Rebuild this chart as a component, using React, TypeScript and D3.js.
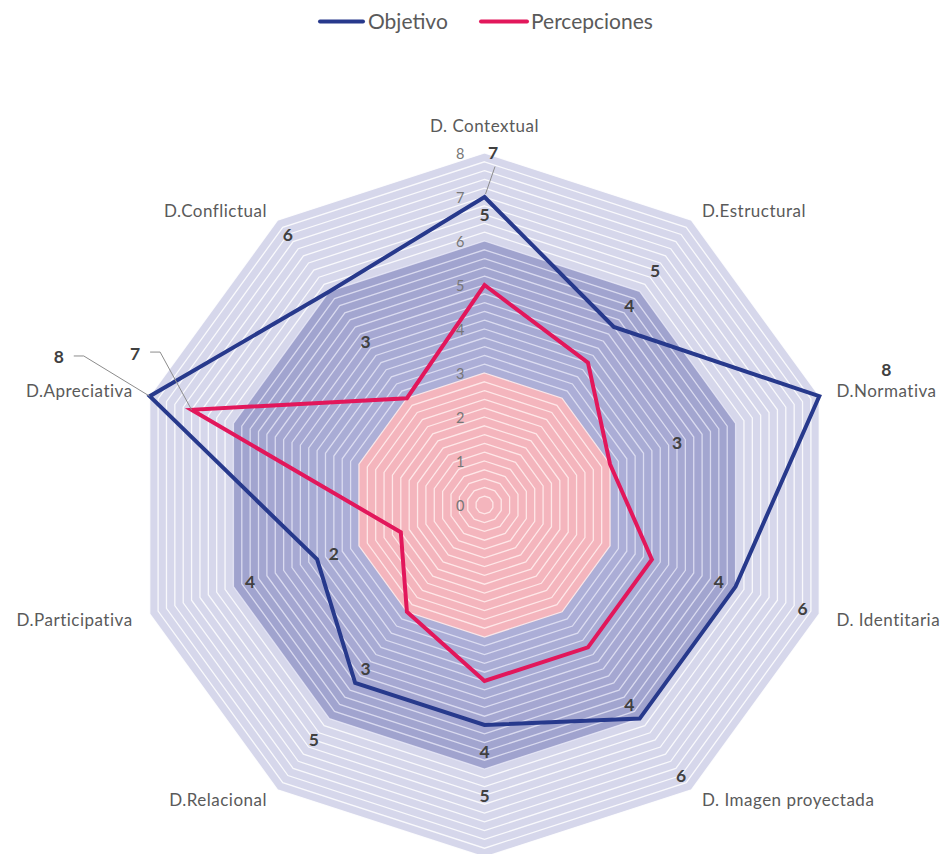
import React from "react";
import * as d3 from "d3";

const categories = [
  "D. Contextual",
  "D.Estructural",
  "D.Normativa",
  "D. Identitaria",
  "D. Imagen proyectada",
  "",
  "D.Relacional",
  "D.Participativa",
  "D.Apreciativa",
  "D.Conflictual",
];
const objetivo = [7, 5, 8, 6, 6, 5, 5, 4, 8, 6];
const percepciones = [5, 4, 3, 4, 4, 4, 3, 2, 7, 3];
const tickValues = [0, 1, 2, 3, 4, 5, 6, 7, 8];
const seriesNames = ["Objetivo", "Percepciones"];

const W = 946;
const H = 854;
const CX = 484.5;
const CY = 505;
const R = 352;
const MAXV = 8;
const BLUE = "#27398c";
const PINK = "#e2175b";
const FONT = "Lato, 'Open Sans', sans-serif";

// manually moved data labels (layout only): series, index, offset, leader type
const moved = [
  { s: 0, i: 0, dx: 8.5, dy: 26, leader: "below" },
  { s: 0, i: 2, dx: 0, dy: -5, leader: "" },
  { s: 0, i: 8, dx: -24, dy: -17.5, leader: "right" },
  { s: 1, i: 8, dx: 10.5, dy: -35, leader: "right" },
];

export default function App() {
  const r = d3.scaleLinear().domain([0, MAXV]).range([0, R]);
  const n = categories.length;
  const ang = d3
    .scaleLinear()
    .domain([0, n])
    .range([0, 2 * Math.PI]);
  const pt = (i: number, v: number) => {
    const a = ang(i);
    return [CX + r(v) * Math.sin(a), CY - r(v) * Math.cos(a)];
  };
  const radial = d3
    .lineRadial<number>()
    .angle((_, i) => ang(i))
    .radius((d) => r(d))
    .curve(d3.curveLinearClosed);

  const levels = d3.range(40, 0, -1).map((k) => k / 5);
  const fillFor = (v: number) => {
    if (v > 6.001) return "#d6d7eb";
    if (v > 3.001) {
      const t = (v - 3) / 3;
      return d3.interpolateRgb("#aeb0d8", "#a0a3ce")(t);
    }
    return "#f4b5bd";
  };
  const strokeFor = (v: number) => {
    if (v > 6.001) return "rgba(255,255,255,0.85)";
    if (v > 3.001) return "rgba(236,236,250,0.75)";
    return "rgba(255,236,236,0.9)";
  };

  const series = [objetivo, percepciones];
  const colors = [BLUE, PINK];

  const labels: any[] = [];
  series.forEach((vals, s) => {
    vals.forEach((v, i) => {
      let [x, y] = pt(i, v + 1.6);
      const m = moved.find((mm) => mm.s === s && mm.i === i);
      let leader: string | null = null;
      if (m) {
        x += m.dx;
        y += m.dy;
        const [vx, vy] = pt(i, v);
        if (m.leader === "below") {
          leader = `M${x + 2},${y + 14} L${vx + 1},${vy - 3}`;
        } else if (m.leader === "right") {
          leader = `M${x + 15},${y - 1} L${x + 25},${y - 1} L${vx},${vy}`;
        }
      }
      labels.push({ key: `${s}-${i}`, x, y, text: String(v), leader });
    });
  });

  return (
    <svg
      width={W}
      height={H}
      style={{ position: "absolute", left: 0, top: 0, background: "#fff" }}
      fontFamily={FONT}
    >
      {/* grid bands */}
      <g transform={`translate(${CX},${CY})`}>
        {levels.map((v) => (
          <path
            key={v}
            d={radial(new Array(n).fill(v)) || ""}
            fill={fillFor(v)}
            stroke={strokeFor(v)}
            strokeWidth={1.3}
          />
        ))}
      </g>

      {/* tick labels */}
      {tickValues.map((t) => (
        <text
          key={t}
          x={CX - 20}
          y={CY - r(t)}
          textAnchor="end"
          dominantBaseline="central"
          fontSize={14.5}
          fill="#777"
        >
          {t}
        </text>
      ))}

      {/* series */}
      <g transform={`translate(${CX},${CY})`}>
        {series.map((vals, s) => (
          <path
            key={s}
            d={radial(vals) || ""}
            fill="none"
            stroke={colors[s]}
            strokeWidth={4}
            strokeLinejoin="miter"
          />
        ))}
      </g>

      {/* category labels */}
      {categories.map((c, i) => {
        const a = ang(i);
        const sn = Math.sin(a);
        const cs = Math.cos(a);
        const pad = Math.abs(sn) < 0.1 ? 28 : 18;
        const x = CX + (R + pad) * sn;
        let y = CY - (R + pad) * cs;
        if (Math.abs(sn) >= 0.1) y += cs > 0.5 ? 5 : cs < -0.5 ? -5 : 0;
        const anchor = Math.abs(sn) < 0.1 ? "middle" : sn > 0 ? "start" : "end";
        return (
          <text
            key={i}
            x={x}
            y={y}
            textAnchor={anchor}
            dominantBaseline="central"
            fontSize={17}
            letterSpacing={0.5}
            fill="#5a5a5a"
          >
            {c}
          </text>
        );
      })}

      {/* data labels */}
      {labels.map((l) =>
        l.leader ? (
          <path key={"ld" + l.key} d={l.leader} fill="none" stroke="#8c8c8c" strokeWidth={1} />
        ) : null
      )}
      {labels.map((l) => (
        <text
          key={"dl" + l.key}
          x={l.x}
          y={l.y}
          textAnchor="middle"
          dominantBaseline="central"
          fontSize={17.5}
          fontWeight="bold"
          fill="#404040"
        >
          {l.text}
        </text>
      ))}

      {/* legend */}
      <g>
        <line x1={320} y1={21.5} x2={363} y2={21.5} stroke={BLUE} strokeWidth={4} strokeLinecap="round" />
        <text x={368} y={29} fontSize={21} fill="#5a5a5a">
          {seriesNames[0]}
        </text>
        <line x1={481} y1={21.5} x2={527} y2={21.5} stroke={PINK} strokeWidth={4} strokeLinecap="round" />
        <text x={531} y={29} fontSize={21} fill="#5a5a5a">
          {seriesNames[1]}
        </text>
      </g>
    </svg>
  );
}
